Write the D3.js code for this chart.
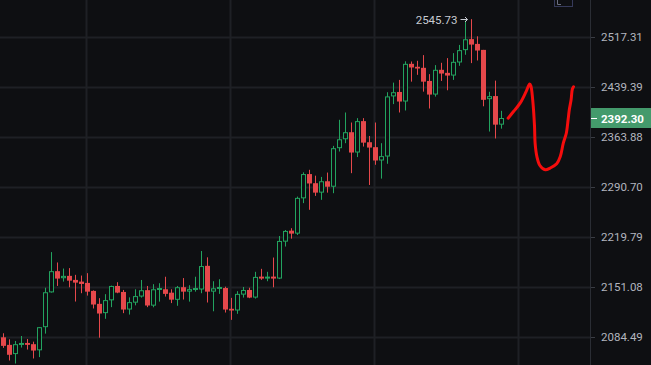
<!DOCTYPE html>
<html>
<head>
<meta charset="utf-8">
<script src="https://cdn.jsdelivr.net/npm/d3@7"></script>
<style>
  html, body { margin: 0; padding: 0; background: #0e0f12; overflow: hidden; }
  text { font-family: Roboto, "Liberation Sans", sans-serif; }
</style>
</head>
<body>
<script>
// candle data, one entry per bar
var open = [2084.1, 2074.2, 2062.2, 2074.2, 2076.7, 2075.1, 2067.1, 2097.4, 2143.8, 2172.6,
	2163.0, 2166.2, 2160.7, 2158.4, 2156.6, 2145.8, 2128.4, 2116.0, 2133.1, 2152.5,
	2144.4, 2120.8, 2130.0, 2138.2, 2146.8, 2126.0, 2147.4, 2148.0, 2143.4, 2133.8,
	2150.8, 2144.8, 2147.5, 2147.7, 2179.9, 2144.8, 2148.8, 2149.7, 2121.8, 2119.5,
	2140.8, 2147.1, 2136.8, 2165.2, 2162.5, 2165.2, 2162.5, 2213.3, 2228.7, 2224.5,
	2274.4, 2309.4, 2296.2, 2282.6, 2299.0, 2291.1, 2347.3, 2360.5, 2371.0, 2340.9,
	2387.6, 2356.1, 2348.8, 2329.2, 2335.0, 2425.0, 2431.8, 2417.2, 2475.2, 2470.6,
	2469.0, 2448.7, 2427.8, 2465.9, 2461.2, 2457.0, 2477.3, 2496.6, 2513.9, 2506.4,
	2497.0, 2420.8, 2425.5, 2382.3];
var high = [2089.4, 2081.5, 2079.3, 2085.8, 2081.9, 2078.4, 2097.6, 2150.1, 2198.8, 2184.5,
	2176.2, 2176.8, 2167.6, 2166.6, 2169.9, 2146.5, 2136.0, 2141.4, 2152.9, 2157.6,
	2147.1, 2137.1, 2148.0, 2160.6, 2152.5, 2154.9, 2156.2, 2165.0, 2148.0, 2152.5,
	2163.2, 2153.5, 2165.0, 2200.3, 2191.6, 2158.9, 2161.6, 2151.5, 2136.4, 2145.4,
	2151.1, 2150.1, 2171.7, 2175.8, 2171.7, 2191.3, 2221.2, 2229.6, 2232.1, 2276.9,
	2311.9, 2315.6, 2307.1, 2305.3, 2311.6, 2350.7, 2389.6, 2400.6, 2385.5, 2392.1,
	2392.1, 2365.4, 2385.5, 2354.7, 2431.4, 2446.1, 2450.3, 2479.1, 2478.8, 2479.9,
	2488.8, 2459.2, 2473.2, 2476.8, 2484.1, 2491.9, 2504.8, 2543.4, 2545.73, 2518.4,
	2497.0, 2432.1, 2449.2, 2403.1];
var low = [2070.3, 2053.9, 2050.0, 2070.7, 2068.1, 2056.5, 2058.3, 2088.9, 2143.5, 2152.5,
	2158.4, 2150.7, 2131.5, 2142.7, 2139.5, 2122.2, 2083.6, 2108.5, 2124.0, 2142.7,
	2116.0, 2114.1, 2126.4, 2136.8, 2124.0, 2123.8, 2131.4, 2138.2, 2129.4, 2125.8,
	2134.2, 2131.4, 2144.8, 2142.7, 2130.2, 2118.5, 2141.8, 2116.8, 2107.1, 2115.1,
	2136.8, 2136.0, 2135.5, 2160.7, 2158.9, 2150.7, 2161.8, 2206.5, 2217.5, 2222.6,
	2267.6, 2258.1, 2277.9, 2272.3, 2282.6, 2281.8, 2342.4, 2354.7, 2310.7, 2334.2,
	2349.7, 2293.6, 2322.9, 2302.8, 2324.4, 2413.3, 2400.6, 2403.6, 2447.6, 2458.1,
	2432.3, 2406.6, 2424.7, 2448.7, 2434.4, 2450.3, 2472.1, 2489.3, 2476.3, 2480.4,
	2410.0, 2372.0, 2361.7, 2376.3];
var close = [2072.9, 2061.3, 2075.1, 2076.7, 2074.2, 2066.8, 2097.4, 2144.0, 2172.6, 2162.5,
	2166.2, 2159.7, 2157.0, 2155.2, 2144.8, 2127.5, 2115.5, 2133.4, 2152.5, 2143.5,
	2120.8, 2130.7, 2138.8, 2146.7, 2126.2, 2148.0, 2149.7, 2141.8, 2134.0, 2150.8,
	2144.8, 2148.2, 2149.7, 2179.6, 2144.8, 2149.3, 2151.1, 2120.8, 2119.5, 2141.8,
	2147.1, 2136.8, 2164.8, 2162.5, 2165.2, 2162.5, 2214.3, 2228.3, 2224.5, 2275.1,
	2309.4, 2295.8, 2282.6, 2299.0, 2291.1, 2347.3, 2360.5, 2371.0, 2340.9, 2387.6,
	2355.5, 2348.2, 2329.2, 2335.6, 2425.0, 2431.4, 2417.2, 2475.2, 2469.5, 2467.9,
	2447.6, 2427.8, 2465.9, 2460.1, 2457.0, 2478.3, 2496.6, 2513.7, 2505.3, 2496.0,
	2419.8, 2425.4, 2382.3, 2392.30];

// price axis labels
var priceTicks = [2517.31, 2439.39, 2363.88, 2290.70, 2219.79, 2151.08, 2084.49];
var lastPrice = 2392.30;
var highLabel = 2545.73;
// vertical time grid, in bar units
var timeGrid = [13.83, 37.83, 61.83, 85.83];
// hand drawn red stroke: bar position and price
var drawBar = [84.1, 85.0, 86.1, 87.1, 87.7, 87.9, 88.2, 88.5, 88.6, 88.9, 89.4,
	90.3, 91.1, 92.2, 92.8, 93.3, 93.8, 94.1, 94.3, 94.6, 94.8, 95.0];
var drawPrice = [2392, 2402, 2414.7, 2432.3, 2443.9, 2440.9, 2419.8, 2380.4, 2354.7, 2335.0, 2321.9,
	2315.6, 2318.1, 2324.4, 2335.0, 2354.7, 2369.5, 2389.6, 2404.7, 2419.8, 2435.9, 2439.8];

var W = 651, H = 365, AXIS_X = 590;
var BG = "#0e0f12", GRID = "#1e2025", UP = "#22a35f", DOWN = "#e5484b";

var svg = d3.select("body").append("svg").attr("width", W).attr("height", H);
svg.append("rect").attr("width", W).attr("height", H).attr("fill", BG);

var x = d3.scaleLinear().domain([0, 83]).range([3.5, 501.5]);
var y = d3.scaleLog().domain([2084.49, 2517.31]).range([337, 37]);

// grid
svg.append("g").selectAll("line").data(priceTicks).enter().append("line")
	.attr("x1", 0).attr("x2", AXIS_X)
	.attr("y1", function (d) { return Math.round(y(d)) + 0.5; })
	.attr("y2", function (d) { return Math.round(y(d)) + 0.5; })
	.attr("stroke", GRID).attr("stroke-width", 2);
svg.append("g").selectAll("line").data(timeGrid).enter().append("line")
	.attr("x1", function (d) { return Math.round(x(d)) + 0.5; })
	.attr("x2", function (d) { return Math.round(x(d)) + 0.5; })
	.attr("y1", 0).attr("y2", H)
	.attr("stroke", GRID).attr("stroke-width", 2);

// candles
var bars = d3.range(open.length);
var g = svg.append("g");
g.selectAll(".wick").data(bars).enter().append("line")
	.attr("x1", function (i) { return x(i); })
	.attr("x2", function (i) { return x(i); })
	.attr("y1", function (i) { return y(high[i]); })
	.attr("y2", function (i) { return y(low[i]); })
	.attr("stroke", function (i) { return close[i] >= open[i] ? UP : DOWN; })
	.attr("stroke-width", 1);
g.selectAll(".body").data(bars).enter().append("rect")
	.attr("x", function (i) { return close[i] >= open[i] ? x(i) - 2 : x(i) - 2.5; })
	.attr("width", function (i) { return close[i] >= open[i] ? 4 : 5; })
	.attr("y", function (i) {
		var t = y(Math.max(open[i], close[i]));
		return close[i] >= open[i] ? t + 0.5 : t;
	})
	.attr("height", function (i) {
		var h = Math.max(1.5, Math.abs(y(open[i]) - y(close[i])));
		return close[i] >= open[i] ? Math.max(1, h - 1) : h;
	})
	.attr("fill", function (i) { return close[i] >= open[i] ? BG : DOWN; })
	.attr("stroke", function (i) { return close[i] >= open[i] ? UP : "none"; })
	.attr("stroke-width", 1);

// highest price marker with a small arrow to the bar
var hiIdx = high.indexOf(d3.max(high));
var hy = Math.round(y(highLabel)) + 0.5;
svg.append("text")
	.attr("x", x(hiIdx) - 14).attr("y", hy + 4)
	.attr("text-anchor", "end")
	.attr("font-size", 11.5).attr("fill", "#c7cad1")
	.text(d3.format(".2f")(highLabel));
svg.append("path")
	.attr("d", "M" + (x(hiIdx) - 11) + "," + hy + " H" + (x(hiIdx) - 4) +
		" M" + (x(hiIdx) - 6.5) + "," + (hy - 2.5) + " L" + (x(hiIdx) - 4) + "," + hy +
		" L" + (x(hiIdx) - 6.5) + "," + (hy + 2.5))
	.attr("fill", "none").attr("stroke", "#c7cad1").attr("stroke-width", 1);

// hand drawn stroke
var drawLine = d3.line()
	.x(function (d, i) { return x(drawBar[i]); })
	.y(function (d, i) { return y(drawPrice[i]); })
	.curve(d3.curveCatmullRom);
svg.append("path").datum(drawBar)
	.attr("d", drawLine)
	.attr("fill", "none").attr("stroke", "#f50d0d")
	.attr("stroke-width", 3).attr("stroke-linecap", "round").attr("stroke-linejoin", "round");

// price axis
svg.append("line").attr("x1", AXIS_X + 0.5).attr("x2", AXIS_X + 0.5).attr("y1", 0).attr("y2", H)
	.attr("stroke", "#2a2d34").attr("stroke-width", 1);
var axis = d3.axisRight(y).tickValues(priceTicks).tickSize(4).tickPadding(6)
	.tickFormat(d3.format(".2f"));
var ag = svg.append("g").attr("transform", "translate(" + (AXIS_X + 1) + ",0)").call(axis);
ag.select(".domain").remove();
ag.selectAll(".tick line").attr("stroke", "#3a3d44");
ag.selectAll(".tick text").attr("fill", "#b2b5be").attr("font-size", 11.5)
	.attr("font-family", "Roboto, sans-serif");

// last price tag
var ly = Math.round(y(lastPrice));
svg.append("rect").attr("x", AXIS_X + 1).attr("y", ly - 10).attr("width", W - AXIS_X).attr("height", 20)
	.attr("fill", "#449a6c");
svg.append("line").attr("x1", AXIS_X + 1).attr("x2", AXIS_X + 7).attr("y1", ly + 0.5).attr("y2", ly + 0.5)
	.attr("stroke", "#ffffff").attr("stroke-width", 1);
svg.append("text").attr("x", AXIS_X + 11).attr("y", ly + 4.5)
	.attr("font-size", 11.5).attr("font-weight", "bold").attr("fill", "#ffffff")
	.text(d3.format(".2f")(lastPrice));

// small toolbar button at the top, cut off by the edge
svg.append("rect").attr("x", 554.5).attr("y", -4).attr("width", 18).attr("height", 10.5)
	.attr("fill", "none").attr("stroke", "#363a5a").attr("stroke-width", 1);
svg.append("path").attr("d", "M557.5,0 V4.5 H561")
	.attr("fill", "none").attr("stroke", "#6b6f80").attr("stroke-width", 1);
</script>
</body>
</html>
